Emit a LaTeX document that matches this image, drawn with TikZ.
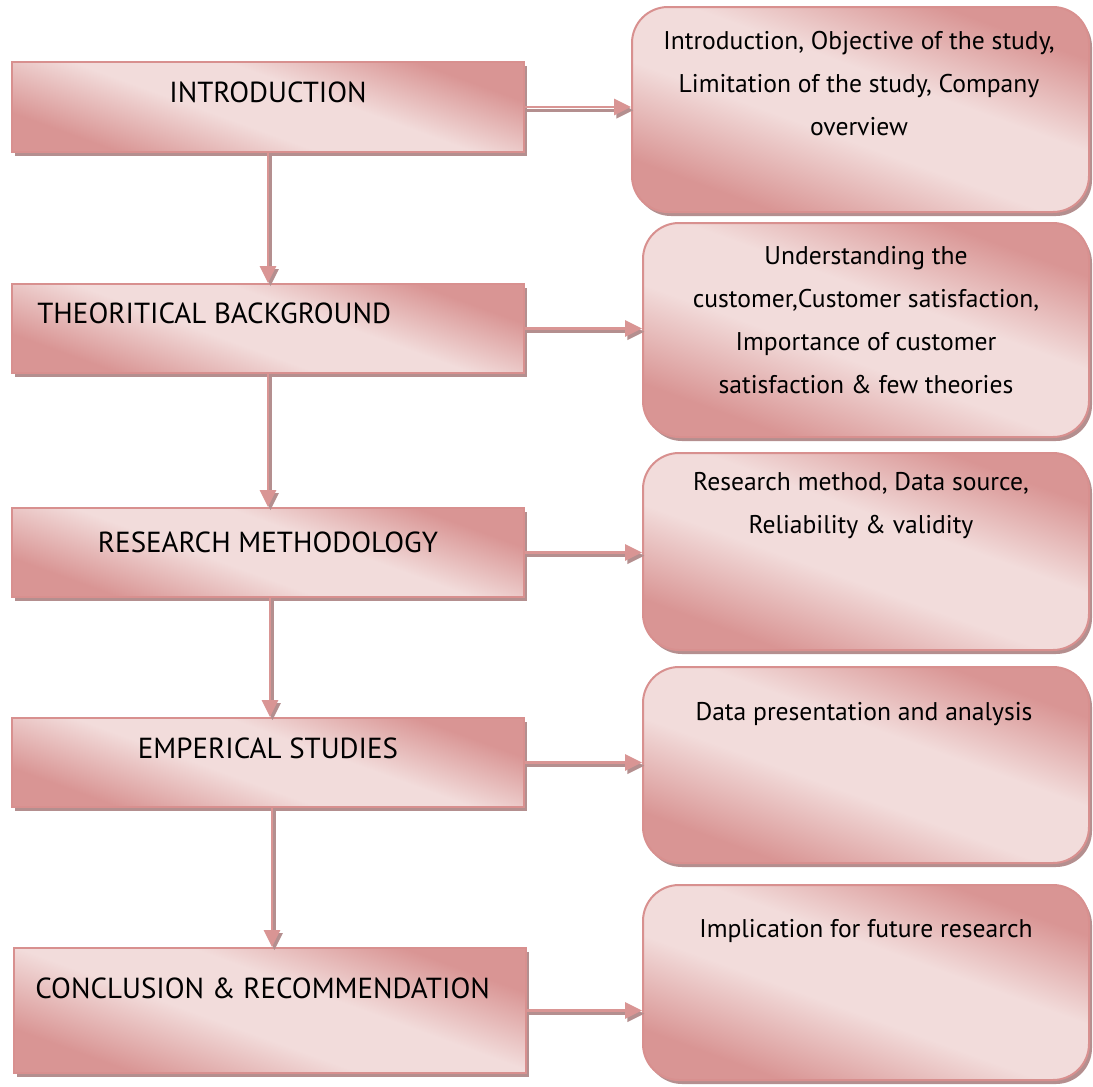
\documentclass[tikz,border=0pt]{standalone}
\usepackage{fontspec}
\setmainfont{PT Sans}
\usetikzlibrary{shadows,arrows.meta}

\definecolor{pkdark}{HTML}{D99594}
\definecolor{pklight}{HTML}{F2DCDB}
\definecolor{pkline}{HTML}{D8908F}
\definecolor{pkshadow}{HTML}{B48F8F}

\pgfdeclareverticalshading{pinkband}{100bp}{color(0bp)=(pkdark); color(27bp)=(pkdark);
    color(44bp)=(pklight); color(57bp)=(pklight); color(73bp)=(pkdark); color(100bp)=(pkdark)}

\tikzset{
    stagebox/.style={draw=pkline, line width=1pt, inner sep=0pt,
        shading=pinkband, shading angle=-20,
        drop shadow={shadow xshift=1.5pt, shadow yshift=-2pt, fill=pkshadow, opacity=1},
        minimum width=256pt, minimum height=45pt},
    infobox/.style={stagebox, rounded corners=18pt, minimum width=223pt},
    stagetext/.style={inner sep=0pt, font=\fontsize{14.5}{17}\selectfont},
    infotext/.style={inner sep=0pt, anchor=north, align=center, font=\fontsize{12.8}{21.5}\selectfont},
    link/.style={draw=pkdark, line width=1.4pt, -{Triangle[length=8.5pt,width=8pt]},
        preaction={draw=pkshadow, line width=1.4pt, -{Triangle[length=8.5pt,width=8pt]},
        transform canvas={shift={(1.2pt,-1.6pt)}}}}
}

\begin{document}
\begin{tikzpicture}[x=0.5pt,y=-0.5pt]
    \useasboundingbox (0,0) rectangle (1093,1087);

    % Stages
    \node[stagebox] (intro) at (268,107) {};
    \node[stagebox, minimum height=44.5pt] (theory) at (268,328.5) {};
    \node[stagebox, minimum height=44.5pt] (method) at (268,552.5) {};
    \node[stagebox, minimum height=44.5pt] (empir) at (268,762.5) {};
    \node[stagebox, minimum height=62.5pt] (concl) at (270,1010.5) {};

    \node[stagetext] (introtxt) at (268,92) {INTRODUCTION};
    \node[stagetext, anchor=west] (theorytxt) at (37,313) {THEORITICAL BACKGROUND};
    \node[stagetext] (methodtxt) at (268,542) {RESEARCH METHODOLOGY};
    \node[stagetext] (empirtxt) at (268,748) {EMPERICAL STUDIES};
    \node[stagetext, anchor=west] (concltxt) at (35,988) {CONCLUSION \& RECOMMENDATION};

    % Details
    \node[infobox, minimum width=228.5pt, minimum height=102.5pt] (introinfo) at (860.5,109.5) {};
    \node[infobox, minimum height=107pt] (theoryinfo) at (866,330) {};
    \node[infobox, minimum height=98.5pt] (methodinfo) at (866,551.5) {};
    \node[infobox, minimum height=98pt] (empirinfo) at (866,765) {};
    \node[infobox, minimum height=97.5pt] (conclinfo) at (866,982.5) {};

    \node[infotext] (introdet) at (859,31) {Introduction, Objective of the study,\\Limitation of the study, Company\\overview};
    \node[infotext] (theorydet) at (866,246) {Understanding the\\customer,Customer satisfaction,\\Importance of customer\\satisfaction \& few theories};
    \node[infotext] (methoddet) at (861,472) {Research method, Data source,\\Reliability \& validity};
    \node[infotext] (empirdet) at (864,702) {Data presentation and analysis};
    \node[infotext] (concldet) at (866,919) {Implication for future research};

    % Arrows down
    \draw[link] (intro.south) -- (theory.north);
    \draw[link] (theory.south) -- (method.north);
    \draw[link] ([xshift=1pt]method.south) -- ([xshift=1pt]empir.north);
    \draw[link] ([xshift=2pt]empir.south) -- ([xshift=2pt]empir.south |- concl.north);

    % Arrows right
    \draw[link] (intro.east) -- (intro.east -| introinfo.west);
    \draw[link] (theory.east) -- (theory.east -| theoryinfo.west);
    \draw[link] (method.east) -- (method.east -| methodinfo.west);
    \draw[link] (empir.east) -- (empir.east -| empirinfo.west);
    \draw[link] (concl.east) -- (concl.east -| conclinfo.west);
\end{tikzpicture}
\end{document}
